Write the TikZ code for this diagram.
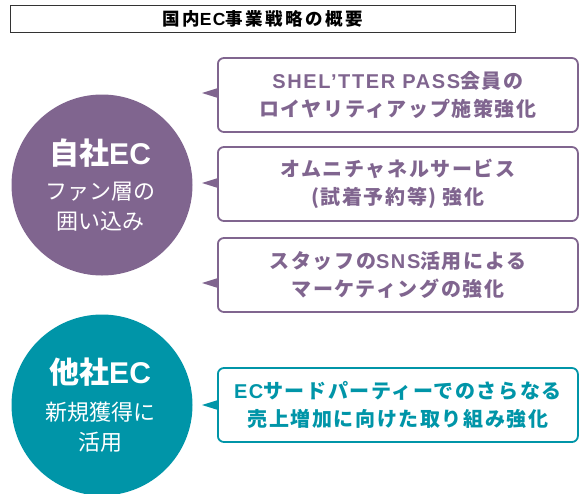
\documentclass[tikz,border=0pt]{standalone}
\usepackage{fontspec}
\setmainfont{Noto Sans CJK JP}
\newfontfamily\jp[LetterSpace=8]{Noto Sans CJK JP}
\newfontfamily\jptitle[LetterSpace=14]{Noto Sans CJK JP}
\newfontfamily\jpc{Noto Sans CJK JP}
\newfontfamily\lat[LetterSpace=8,UprightFont=* Bold,BoldFont=* Bold]{Liberation Sans}
\newfontfamily\latc[LetterSpace=1,UprightFont=* Bold,BoldFont=* Bold]{Liberation Sans}
\definecolor{ppl}{HTML}{80658F}
\definecolor{tea}{HTML}{0095A8}
\begin{document}
\begin{tikzpicture}[x=1pt,y=-1pt,
  ibox/.style={draw=#1,line width=1.8pt,rounded corners=6pt,fill=white,minimum width=360pt,minimum height=74pt,anchor=west,align=center,text=#1,font=\jp\bfseries\fontsize{20}{28}\selectfont,inner sep=0pt},
  circ/.style={circle,fill=#1,minimum size=181pt,inner sep=0pt,text=white,align=center},
  ptr/.style={fill=#1}]
\useasboundingbox (0,0) rectangle (585,493);
\node[draw=black!80,line width=0.8pt,minimum width=505pt,minimum height=27pt,inner sep=0pt,font=\jptitle\bfseries\fontsize{17.5}{18}\selectfont] (title) at (262.5,19) {国内{\lat EC}事業戦略の概要};
\node[circ=ppl] (c1) at (102,185) {};
\node[text=white,font=\jpc\bfseries\fontsize{30}{32}\selectfont] (c1a) at (100,153) {自社{\latc EC}};
\node[text=white,align=center,font=\jpc\fontsize{22}{30}\selectfont] (c1b) at (100,207) {ファン層の\\囲い込み};
\node[circ=tea] (c2) at (102,405) {};
\node[text=white,font=\jpc\bfseries\fontsize{30}{32}\selectfont] (c2a) at (100,372) {他社{\latc EC}};
\node[text=white,align=center,font=\jpc\fontsize{22}{30}\selectfont] (c2b) at (100,427) {新規獲得に\\活用};
\node[ibox=ppl] (b1) at (217,95) {{\lat SHEL’TTER PASS}会員の\\ロイヤリティアップ施策強化};
\node[ibox=ppl] (b2) at (217,184) {オムニチャネルサービス\\(試着予約等) 強化};
\node[ibox=ppl] (b3) at (217,275) {スタッフの{\lat SNS}活用による\\マーケティングの強化};
\node[ibox=tea] (b4) at (217,405) {{\lat EC}サードパーティーでのさらなる\\売上増加に向けた取り組み強化};
\coordinate (p1) at (202,93);
\coordinate (p2) at (202,183);
\coordinate (p3) at (202,283);
\coordinate (p4) at (202,405);
\fill[ppl] (p1) -- ++(16,-5) -- ++(0,10) -- cycle;
\fill[ppl] (p2) -- ++(16,-5) -- ++(0,10) -- cycle;
\fill[ppl] (p3) -- ++(16,-5) -- ++(0,10) -- cycle;
\fill[tea] (p4) -- ++(16,-5) -- ++(0,10) -- cycle;
\end{tikzpicture}
\end{document}
